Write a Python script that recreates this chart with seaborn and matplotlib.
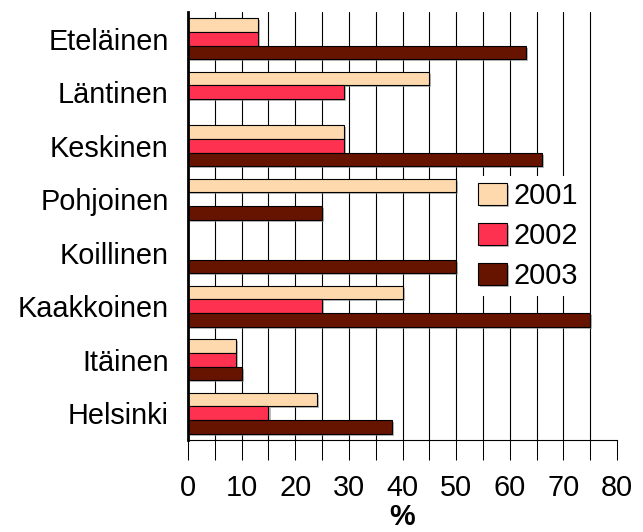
import numpy as np
import pandas as pd
import matplotlib
matplotlib.use("Agg")
import matplotlib.pyplot as plt
import matplotlib.patches as mpatches
import matplotlib.patheffects as pe
from matplotlib.ticker import MultipleLocator
import seaborn as sns

# Regional shares (%) by year
regions = ["Eteläinen", "Läntinen", "Keskinen", "Pohjoinen",
           "Koillinen", "Kaakkoinen", "Itäinen", "Helsinki"]
years = ["2001", "2002", "2003"]
v2001 = [13, 45, 29, 50, 0, 40, 9, 24]
v2002 = [13, 29, 29, 0, 0, 25, 9, 15]
v2003 = [63, 0, 66, 25, 50, 75, 10, 38]
colors = ["#FFD9AE", "#FF3150", "#661400"]

df = pd.DataFrame({
    "region": regions * 3,
    "year": [y for y in years for _ in regions],
    "value": v2001 + v2002 + v2003,
})

sns.set_theme(style="white")
plt.rcParams["font.family"] = ["Liberation Sans", "DejaVu Sans"]
plt.rcParams["text.color"] = "black"

FS = 20.8

fig = plt.figure(figsize=(6.43, 5.32), dpi=100)
ax = fig.add_axes([188 / 643, 1 - 440 / 532, 429 / 643, 428 / 532])

sns.barplot(data=df, x="value", y="region", hue="year", order=regions,
            hue_order=years, palette=colors, orient="h", width=0.77,
            saturation=1, edgecolor="black", linewidth=0.8, ax=ax,
            legend=False, zorder=3)

shadow = [pe.SimplePatchShadow(offset=(1.5, -1.5), shadow_rgbFace="0.55", alpha=0.6),
          pe.Normal()]
for bar in ax.patches:
    if bar.get_width() > 0:
        bar.set_path_effects(shadow)

ax.set_xlim(0, 80)
ax.set_ylim(len(regions) - 0.5, -0.5)

# vertical grid every 5 units
for gx in np.arange(5, 80, 5):
    ax.axvline(gx, color="black", lw=0.8, zorder=1)

ax.xaxis.set_major_locator(MultipleLocator(10))
ax.xaxis.set_minor_locator(MultipleLocator(5))
ax.tick_params(axis="x", which="both", direction="out", length=14.4,
               width=0.75, color="black", bottom=True)
ax.tick_params(axis="x", which="major", labelsize=FS, pad=10, labelcolor="black")
ax.tick_params(axis="y", length=0, labelsize=FS, pad=14, labelcolor="black")

for side in ("top", "right"):
    ax.spines[side].set_visible(False)
ax.spines["left"].set_linewidth(2.0)
ax.spines["left"].set_color("black")
ax.spines["bottom"].set_linewidth(0.8)
ax.spines["bottom"].set_color("black")
ax.spines["left"].set_zorder(5)

ax.set_ylabel("")
ax.set_xlabel("%", fontsize=FS, fontweight="bold", labelpad=0.5, color="black")

handles = [mpatches.Patch(facecolor=c, edgecolor="black", linewidth=0.8,
                          path_effects=shadow) for c in colors]
leg = ax.legend(handles, years, loc="upper left", bbox_to_anchor=(0.662, 0.617),
                frameon=True, fontsize=FS, handlelength=1.0, handleheight=0.8,
                handletextpad=0.22, labelspacing=0.42, borderpad=0.2,
                borderaxespad=0, fancybox=False, framealpha=1)
leg.get_frame().set_facecolor("white")
leg.get_frame().set_edgecolor("none")
leg.set_zorder(6)

fig.savefig("out.png", dpi=100, facecolor="white")
